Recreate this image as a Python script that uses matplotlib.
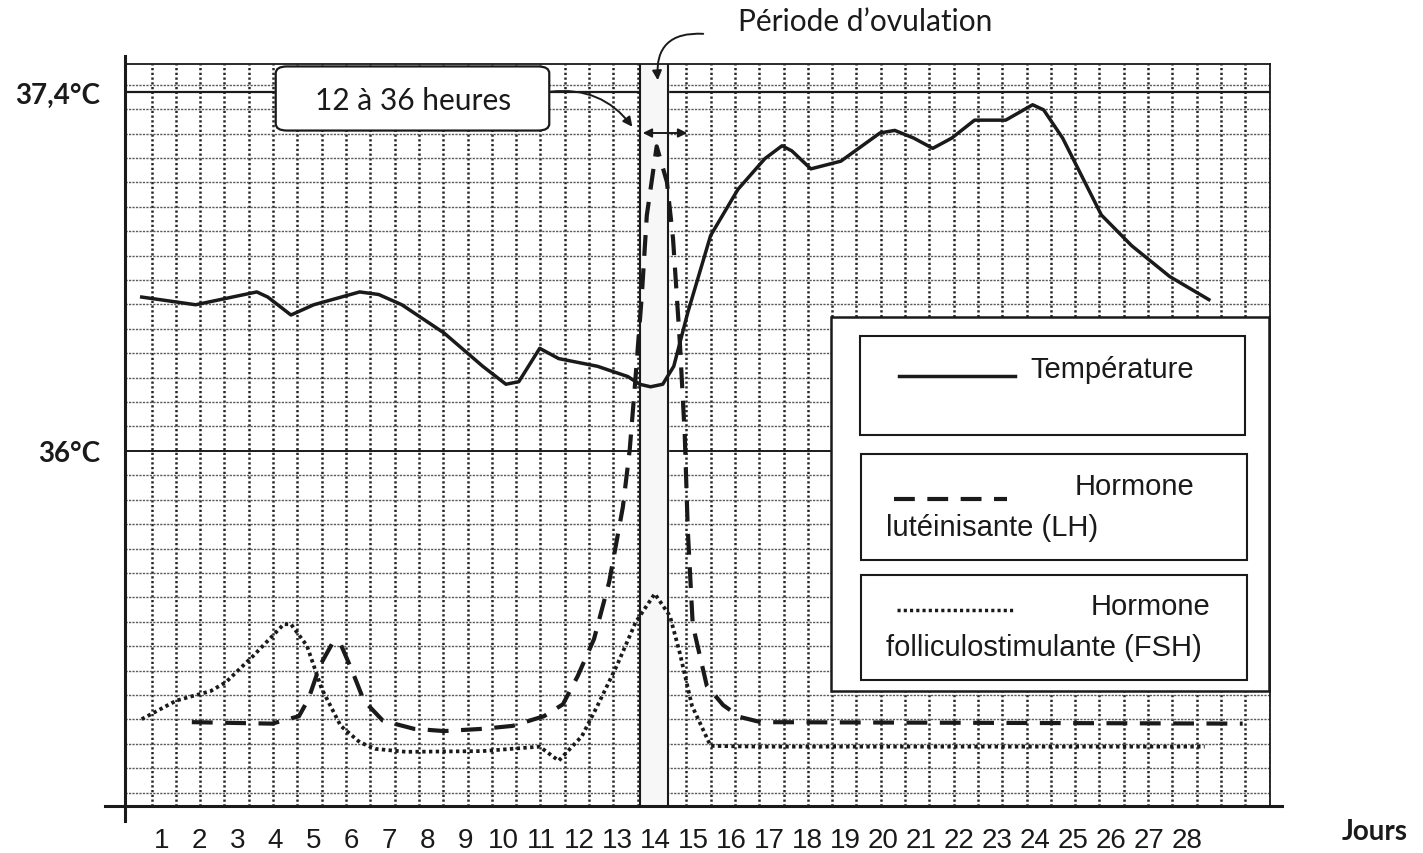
import matplotlib
matplotlib.use('Agg')
import matplotlib.pyplot as plt
import numpy as np
from matplotlib.patches import Rectangle, FancyBboxPatch, FancyArrowPatch
from matplotlib.lines import Line2D

# ---- donnees ----
jours_ticks = list(range(1, 29))

# temperature (degC)
temp_jours = [0.48, 1.90, 3.51, 3.80, 4.41, 5.01, 6.22, 6.72, 7.33, 8.44, 9.46, 10.07,
              10.41, 10.96, 11.46, 12.48, 13.28, 13.59, 13.88, 14.20, 14.49, 14.86,
              15.46, 16.18, 16.89, 17.34, 17.60, 18.10, 18.89, 19.92, 20.31, 20.81,
              21.31, 21.81, 22.41, 23.23, 23.94, 24.23, 24.73, 25.75, 26.55, 27.55, 28.58]
temp_val = [36.60, 36.57, 36.62, 36.60, 36.53, 36.57, 36.62, 36.61, 36.57, 36.46, 36.33, 36.26,
            36.27, 36.40, 36.36, 36.33, 36.29, 36.26, 36.25, 36.26, 36.33, 36.54,
            36.84, 37.02, 37.14, 37.19, 37.17, 37.10, 37.13, 37.24, 37.25, 37.22,
            37.18, 37.22, 37.29, 37.29, 37.35, 37.33, 37.22, 36.92, 36.80, 36.68, 36.59]

# hormone luteinisante (unites arbitraires, 0-100)
lh_jours = [1.80, 3.91, 4.62, 4.87, 5.17, 5.53, 5.72, 6.03, 6.33, 6.83, 7.65, 8.44, 9.46,
            10.25, 11.07, 11.57, 11.96, 12.39, 12.79, 13.15, 13.33, 13.46, 13.65, 13.78,
            14.04, 14.31, 14.47, 14.65, 14.78, 14.86, 14.99, 15.36, 15.79, 16.23, 16.78, 29.47]
lh_val = [11.3, 11.1, 12.1, 14.4, 18.9, 22.2, 21.8, 18.1, 14.2, 11.5, 10.4, 10.1, 10.4,
          10.8, 12.1, 13.7, 17.5, 22.5, 30.2, 40.3, 48.0, 56.2, 68.9, 79.6,
          88.9, 84.1, 76.5, 62.5, 49.9, 37.1, 24.4, 16.2, 13.6, 12.0, 11.3, 11.1]

# hormone folliculostimulante (unites arbitraires, 0-100)
fsh_jours = [0.48, 1.39, 2.30, 2.70, 3.41, 4.22, 4.41, 4.83, 5.22, 5.72, 6.22, 6.63, 7.44,
             9.46, 10.96, 11.46, 12.07, 12.48, 12.99, 13.49, 13.99, 14.39, 14.65, 14.97,
             15.46, 16.75, 28.47]
fsh_val = [11.7, 14.2, 15.5, 16.7, 20.2, 24.5, 24.5, 21.6, 15.8, 10.8, 8.6, 7.7, 7.3,
           7.4, 8.0, 6.1, 9.4, 13.5, 18.9, 24.8, 28.6, 25.6, 20.6, 13.5,
           8.1, 8.0, 8.0]

ovulation = (13.59, 14.35)

# ---- mise en page (pixels de l'image 1423x854) ----
W, H = 1423, 854
def fx(px):
    return px / W
def fy(py):
    return 1 - py / H

ink = '#1a1a1a'
plt.rcParams['font.family'] = ['Liberation Sans', 'DejaVu Sans']

fig = plt.figure(figsize=(14.23, 8.54), dpi=100)
ax = fig.add_axes([fx(125), fy(807), fx(1270) - fx(125), fy(65) - fy(807)])
ax.set_xlim(0.04, 30.19)
ax.set_ylim(34.615, 37.509)

# papier quadrille
for x in np.arange(0.74, 30.19, 0.64):
    ax.axvline(x, color='#262626', lw=1.8, ls=(0, (0.9, 1.0)), zorder=1)
for k in range(-14, 16):
    if k == 0:
        continue
    ax.axhline(36 + 0.0952 * k, color='#5a5a5a', lw=1.0, ls=(0, (1.6, 0.9)), zorder=1)
ax.axhline(36, color=ink, lw=1.4, zorder=1.5)
ax.axhline(37.4, color=ink, lw=1.6, zorder=1.5)

# periode d'ovulation
ax.axvspan(ovulation[0], ovulation[1], color='#f7f7f7', zorder=2)
ax.axvline(ovulation[0], color=ink, lw=1.5, zorder=2.5)
ax.axvline(ovulation[1], color=ink, lw=1.5, zorder=2.5)

ax.plot(temp_jours, temp_val, color=ink, lw=2.5, zorder=4, solid_joinstyle='round')

ax2 = ax.twinx()
ax2.set_ylim(0, 100)
ax2.set_axis_off()
ax2.plot(lh_jours, lh_val, color=ink, lw=3.0, ls=(0, (5, 3)), zorder=4)
ax2.plot(fsh_jours, fsh_val, color=ink, lw=2.7, ls=(0, (0.9, 0.9)), zorder=4)

# axes
for s in ['top', 'right']:
    ax.spines[s].set_linewidth(1.3)
    ax.spines[s].set_color(ink)
ax.spines['left'].set_visible(False)
ax.spines['bottom'].set_visible(False)
fig.add_artist(Line2D([fx(105), fx(1282)], [fy(807), fy(807)], transform=fig.transFigure, color=ink, lw=2.2))
fig.add_artist(Line2D([fx(125), fx(125)], [fy(57), fy(822)], transform=fig.transFigure, color=ink, lw=2.2))

ax.set_xticks(jours_ticks)
ax.set_xticklabels([str(j) for j in jours_ticks])
ax.tick_params(axis='x', length=0, pad=15, labelsize=20, labelcolor=ink)
ax.set_yticks([36, 37.4])
ax.set_yticklabels(['36°C', '37,4°C'], fontweight='bold', family=['Lato', 'DejaVu Sans'])
ax.tick_params(axis='y', length=0, pad=18, labelsize=20, labelcolor=ink)

fig.text(fx(1375), fy(832), 'Jours', ha='center', va='center', fontsize=20,
         fontweight='bold', family=['Lato', 'DejaVu Sans'], color=ink)

# encadre "12 a 36 heures"
fig.add_artist(FancyBboxPatch((fx(280), fy(129)), fx(545) - fx(280), fy(70) - fy(129),
                              boxstyle='round,pad=0.003,rounding_size=0.008',
                              transform=fig.transFigure, facecolor='white', edgecolor=ink, lw=1.6))
fig.text(fx(413), fy(101), '12 à 36 heures', ha='center', va='center', fontsize=21.5,
         family=['Lato', 'DejaVu Sans'], color=ink)
fig.add_artist(FancyArrowPatch((fx(548), fy(93)), (fx(634), fy(130)), transform=fig.transFigure,
                               connectionstyle='arc3,rad=-0.3', arrowstyle='-|>',
                               mutation_scale=14, color=ink, lw=1.4))
fig.add_artist(FancyArrowPatch((fx(640), fy(134)), (fx(690), fy(134)), transform=fig.transFigure,
                               arrowstyle='<|-|>', mutation_scale=13, color=ink, lw=1.4))

# periode d'ovulation
fig.text(fx(865), fy(22), 'Période d’ovulation', ha='center', va='center', fontsize=21.5,
         family=['Lato', 'DejaVu Sans'], color=ink)
fig.add_artist(FancyArrowPatch((fx(706), fy(35)), (fx(658), fy(84)), transform=fig.transFigure,
                               connectionstyle='arc3,rad=0.6', arrowstyle='-|>',
                               mutation_scale=14, color=ink, lw=1.4))

# legende
def boite(x0, y0, x1, y1, lw=1.5):
    fig.add_artist(Rectangle((fx(x0), fy(y1)), fx(x1) - fx(x0), fy(y0) - fy(y1),
                             transform=fig.transFigure, facecolor='white', edgecolor=ink, lw=lw))

boite(831, 318, 1269, 692, lw=1.8)
boite(860, 337, 1245, 436)
boite(861, 455, 1247, 561)
boite(861, 576, 1247, 681)

fs_leg = 21
fig.add_artist(Line2D([fx(899), fx(1015)], [fy(377), fy(377)], transform=fig.transFigure, color=ink, lw=2.5))
fig.text(fx(1030), fy(370), 'Température', ha='left', va='center', fontsize=fs_leg, color=ink)

fig.add_artist(Line2D([fx(894), fx(1007)], [fy(500), fy(500)], transform=fig.transFigure,
                      color=ink, lw=3.0, ls=(0, (5, 3))))
fig.text(fx(1075), fy(487), 'Hormone', ha='left', va='center', fontsize=fs_leg, color=ink)
fig.text(fx(886), fy(528), 'lutéinisante (LH)', ha='left', va='center', fontsize=fs_leg, color=ink)

fig.add_artist(Line2D([fx(897), fx(1015)], [fy(611), fy(611)], transform=fig.transFigure,
                      color=ink, lw=2.5, ls=(0, (0.9, 0.9))))
fig.text(fx(1091), fy(607), 'Hormone', ha='left', va='center', fontsize=fs_leg, color=ink)
fig.text(fx(886), fy(648), 'folliculostimulante (FSH)', ha='left', va='center', fontsize=fs_leg, color=ink)

fig.savefig('out.png', dpi=100)
